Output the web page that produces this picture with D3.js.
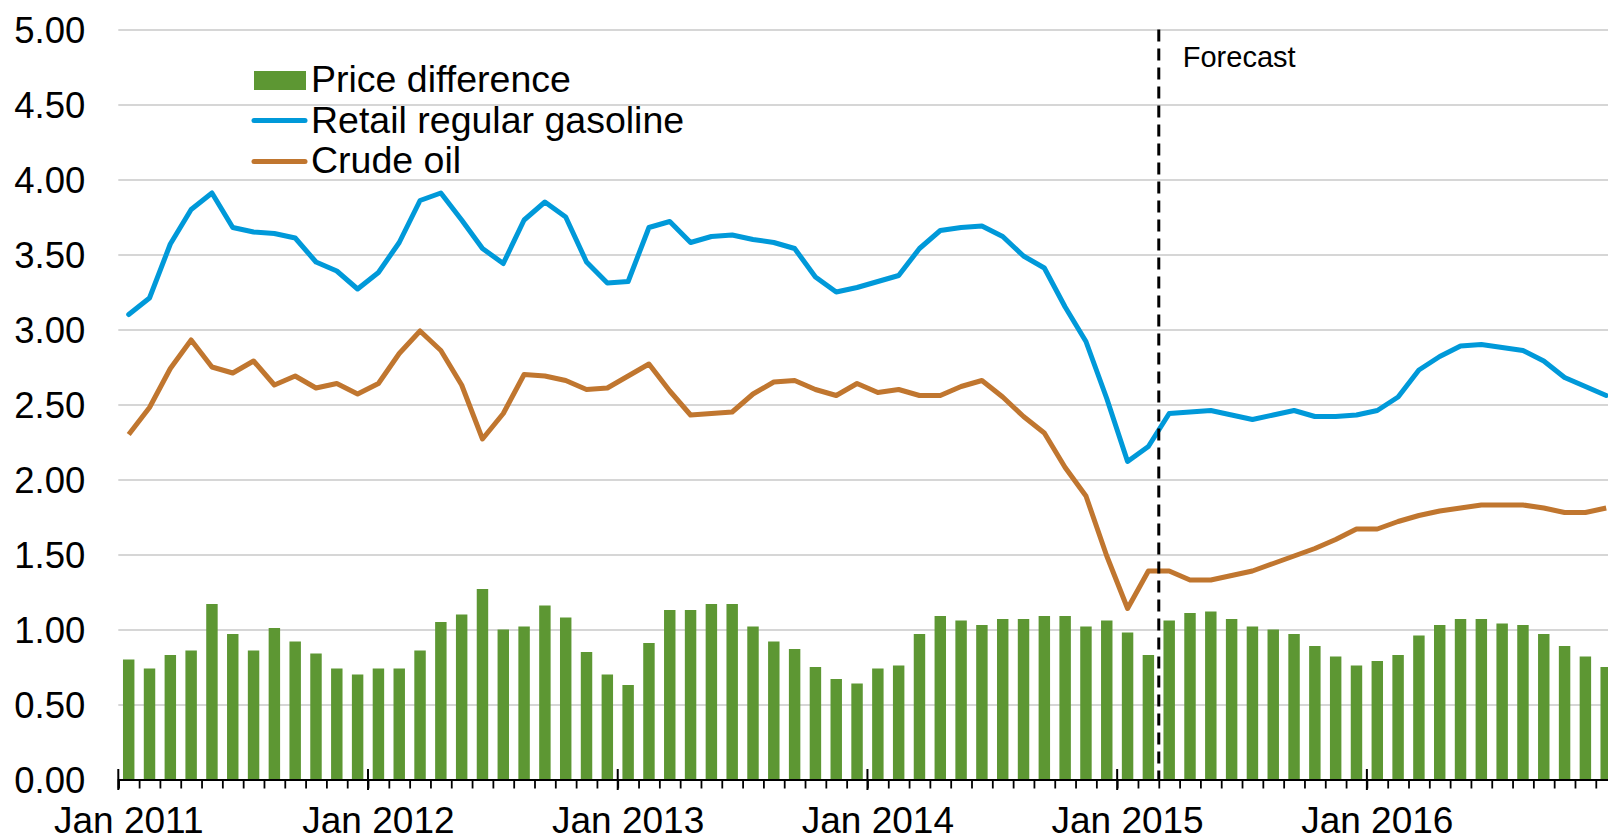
<!DOCTYPE html>
<html>
<head>
<meta charset="utf-8">
<script src="https://cdn.jsdelivr.net/npm/d3@7"></script>
<style>
  html, body { margin: 0; padding: 0; background: #fff; }
  svg { display: block; font-family: Arial, "Liberation Sans", sans-serif; }
</style>
</head>
<body>
<svg id="chart" width="1608" height="840"></svg>
<script>
// ---- data ----
const years = [2011, 2012, 2013, 2014, 2015, 2016];
const monthNames = ["Jan","Feb","Mar","Apr","May","Jun","Jul","Aug","Sep","Oct","Nov","Dec"];
const months = years.flatMap(y => monthNames.map(m => m + " " + y));
const xTickLabels = ["Jan 2011", "Jan 2012", "Jan 2013", "Jan 2014", "Jan 2015", "Jan 2016"];
const yTicks = [0, 0.5, 1, 1.5, 2, 2.5, 3, 3.5, 4, 4.5, 5];
const forecastStart = "Mar 2015";

const gasoline = [3.10,3.21,3.57,3.80,3.91,3.68,3.65,3.64,3.61,3.45,3.39,3.27,
                  3.38,3.58,3.86,3.91,3.73,3.54,3.44,3.73,3.85,3.75,3.45,3.31,
                  3.32,3.68,3.72,3.58,3.62,3.63,3.60,3.58,3.54,3.35,3.25,3.28,
                  3.32,3.36,3.54,3.66,3.68,3.69,3.62,3.49,3.41,3.15,2.92,2.54,
                  2.12,2.22,2.44,2.45,2.46,2.43,2.40,2.43,2.46,2.42,2.42,2.43,
                  2.46,2.55,2.73,2.82,2.89,2.90,2.88,2.86,2.79,2.68,2.62,2.56];
const crude = [2.30,2.48,2.74,2.93,2.75,2.71,2.79,2.63,2.69,2.61,2.64,2.57,
               2.64,2.84,2.99,2.86,2.63,2.27,2.44,2.70,2.69,2.66,2.60,2.61,
               2.69,2.77,2.59,2.43,2.44,2.45,2.57,2.65,2.66,2.60,2.56,2.64,
               2.58,2.60,2.56,2.56,2.62,2.66,2.55,2.42,2.31,2.08,1.89,1.49,
               1.14,1.39,1.39,1.33,1.33,1.36,1.39,1.44,1.49,1.54,1.60,1.67,
               1.67,1.72,1.76,1.79,1.81,1.83,1.83,1.83,1.81,1.78,1.78,1.81];
const difference = [0.80,0.74,0.83,0.86,1.17,0.97,0.86,1.01,0.92,0.84,0.74,0.70,
                    0.74,0.74,0.86,1.05,1.10,1.27,1.00,1.02,1.16,1.08,0.85,0.70,
                    0.63,0.91,1.13,1.13,1.17,1.17,1.02,0.92,0.87,0.75,0.67,0.64,
                    0.74,0.76,0.97,1.09,1.06,1.03,1.07,1.07,1.09,1.09,1.02,1.06,
                    0.98,0.83,1.06,1.11,1.12,1.07,1.02,1.00,0.97,0.89,0.82,0.76,
                    0.79,0.83,0.96,1.03,1.07,1.07,1.04,1.03,0.97,0.89,0.82,0.75];
const seriesNames = ["Price difference", "Retail regular gasoline", "Crude oil"];
const colors = { bar: "#5d9733", gas: "#0099d9", crude: "#c0762f" };

// ---- layout ----
const svg = d3.select("#chart");
const plotLeft = 118.3, plotRight = 1616.6, plotTop = 29.5, plotBottom = 779.5;

const x = d3.scaleBand().domain(months).range([plotLeft, plotRight]).paddingInner(0.45).paddingOuter(0.225);
const xEdge = d3.scaleLinear().domain([0, months.length]).range([plotLeft, plotRight]);
const y = d3.scaleLinear().domain([0, 5]).range([plotBottom, plotTop]);
const cx = m => x(m) + x.bandwidth() / 2;

// gridlines
svg.append("g").attr("class", "grid")
  .attr("transform", `translate(${plotLeft},0)`)
  .call(d3.axisLeft(y).tickValues(yTicks.filter(d => d > 0)).tickSize(-(plotRight - plotLeft)).tickFormat(""))
  .call(g => g.select(".domain").remove())
  .call(g => g.selectAll("line").attr("stroke", "#c8c8c8").attr("stroke-width", 1.5));

// y labels
svg.append("g")
  .attr("transform", `translate(${plotLeft},0)`)
  .call(d3.axisLeft(y).tickValues(yTicks).tickSize(0).tickPadding(33).tickFormat(d3.format(".2f")))
  .call(g => g.select(".domain").remove())
  .call(g => g.selectAll("text").attr("font-size", 36.5).attr("fill", "#000")
      .attr("font-family", "Arial, 'Liberation Sans', sans-serif").attr("dy", "0.35em"));

// bars
svg.append("g").selectAll("rect").data(months).join("rect")
  .attr("x", d => x(d))
  .attr("width", x.bandwidth())
  .attr("y", (d, i) => y(difference[i]))
  .attr("height", (d, i) => y(0) - y(difference[i]))
  .attr("fill", colors.bar);

// lines
const line = arr => d3.line().x((d, i) => cx(months[i])).y(d => y(d))(arr);
svg.append("path").attr("d", line(crude)).attr("fill", "none")
  .attr("stroke", colors.crude).attr("stroke-width", 5).attr("stroke-linejoin", "round");
svg.append("path").attr("d", line(gasoline)).attr("fill", "none")
  .attr("stroke", colors.gas).attr("stroke-width", 5).attr("stroke-linejoin", "round").attr("stroke-linecap", "round");

// x axis: minor ticks every month
svg.append("g").attr("transform", `translate(0,${plotBottom})`)
  .call(d3.axisBottom(xEdge).tickValues(d3.range(0, months.length + 1)).tickSize(9).tickFormat(""))
  .call(g => g.select(".domain").attr("stroke", "#000").attr("stroke-width", 2.2))
  .call(g => g.selectAll(".tick line").attr("stroke", "#000").attr("stroke-width", 1.8));
// major ticks at each January
svg.append("g").selectAll("line").data(d3.range(0, months.length + 1, 12)).join("line")
  .attr("x1", d => xEdge(d)).attr("x2", d => xEdge(d))
  .attr("y1", plotBottom - 10.5).attr("y2", plotBottom + 10.5)
  .attr("stroke", "#000").attr("stroke-width", 2);
// x labels
svg.append("g").attr("transform", `translate(0,${plotBottom})`)
  .call(d3.axisBottom(x).tickValues(xTickLabels).tickSize(0).tickPadding(0))
  .call(g => g.select(".domain").remove())
  .call(g => g.selectAll("text").attr("font-size", 37).attr("fill", "#000")
      .attr("font-family", "Arial, 'Liberation Sans', sans-serif").attr("dy", null).attr("y", 53));

// forecast divider
const fx = xEdge(months.indexOf(forecastStart));
svg.append("line").attr("x1", fx).attr("x2", fx).attr("y1", plotTop).attr("y2", plotBottom)
  .attr("stroke", "#000").attr("stroke-width", 3).attr("stroke-dasharray", "12,7");
svg.append("text").attr("x", fx + 24).attr("y", 67).attr("font-size", 29).attr("fill", "#000")
  .text("Forecast");

// legend
const lg = svg.append("g");
lg.append("rect").attr("x", 254).attr("y", 71).attr("width", 52).attr("height", 19).attr("fill", colors.bar);
lg.append("line").attr("x1", 254).attr("x2", 305).attr("y1", 120.5).attr("y2", 120.5)
  .attr("stroke", colors.gas).attr("stroke-width", 5).attr("stroke-linecap", "round");
lg.append("line").attr("x1", 254).attr("x2", 305).attr("y1", 161.5).attr("y2", 161.5)
  .attr("stroke", colors.crude).attr("stroke-width", 5).attr("stroke-linecap", "round");
lg.selectAll("text").data(seriesNames).join("text")
  .attr("x", 311).attr("y", (d, i) => 92 + i * 40.7)
  .attr("font-size", 37.5).attr("fill", "#000").text(d => d);
</script>
</body>
</html>
